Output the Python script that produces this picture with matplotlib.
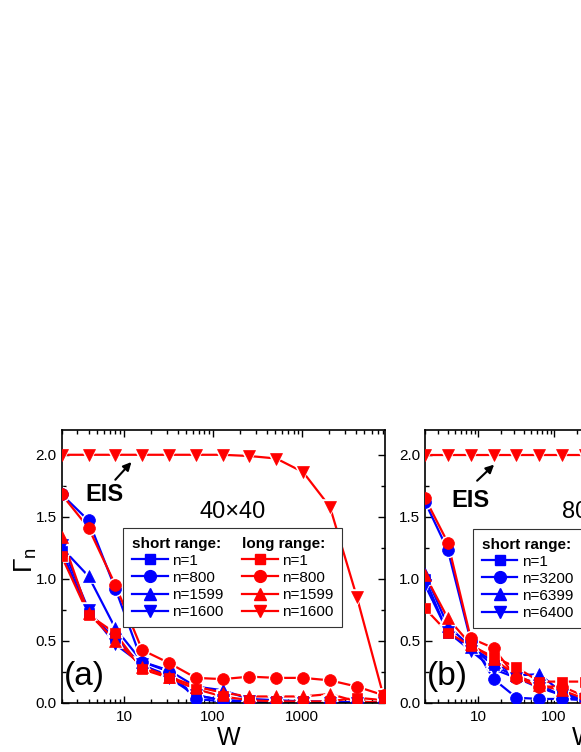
import matplotlib
matplotlib.use('Agg')
import matplotlib.pyplot as plt
from matplotlib.lines import Line2D
from matplotlib.ticker import MultipleLocator, FormatStrFormatter, LogLocator, NullFormatter

plt.rcParams['font.family'] = ['Liberation Sans', 'DejaVu Sans']
plt.rcParams['mathtext.fontset'] = 'custom'
plt.rcParams['mathtext.rm'] = 'Liberation Sans'
plt.rcParams['mathtext.it'] = 'Liberation Sans'

# panel (a): 40x40
W_a = [2, 4, 8, 16, 32, 64, 128, 256, 512, 1024, 2048, 4096, 8192]
a_short_n1 = [1.22, 0.72, 0.52, 0.30, 0.22, 0.06, 0.02, 0.01, 0.01, 0.01, 0.0, 0.0, 0.0]
a_short_n800 = [1.68, 1.47, 0.92, 0.33, 0.25, 0.03, 0.01, 0.0, 0.0, 0.0, 0.0, 0.0, 0.0]
a_short_n1599 = [1.25, 1.02, 0.60, 0.33, 0.26, 0.13, 0.10, 0.03, 0.02, 0.01, 0.01, 0.0, 0.0]
a_short_n1600 = [1.27, 0.75, 0.47, 0.31, 0.20, 0.06, 0.02, 0.01, 0.0, 0.0, 0.0, 0.0, 0.0]
a_long_n1 = [1.18, 0.71, 0.56, 0.27, 0.20, 0.11, 0.05, 0.02, 0.01, 0.01, 0.01, 0.04, 0.02]
a_long_n800 = [1.68, 1.41, 0.95, 0.425, 0.32, 0.20, 0.19, 0.21, 0.20, 0.20, 0.18, 0.13, 0.06]
a_long_n1599 = [1.34, 0.72, 0.50, 0.29, 0.21, 0.13, 0.08, 0.05, 0.05, 0.05, 0.07, 0.01, 0.0]
a_long_n1600 = [2.0, 2.0, 2.0, 2.0, 2.0, 2.0, 2.0, 1.99, 1.97, 1.86, 1.58, 0.855, 0.05]
labels_a = ['n=1', 'n=800', 'n=1599', 'n=1600']

# panel (b): 80x80
W_b = [2, 4, 8, 16, 32, 64, 128, 256, 512]
b_short_n1 = [1.00, 0.56, 0.45, 0.30, 0.21, 0.15, 0.05, 0.02, 0.01]
b_short_n3200 = [1.62, 1.23, 0.50, 0.19, 0.04, 0.03, 0.03, 0.02, 0.01]
b_short_n6399 = [1.04, 0.62, 0.45, 0.33, 0.22, 0.23, 0.08, 0.03, 0.02]
b_short_n6400 = [0.95, 0.57, 0.42, 0.27, 0.20, 0.12, 0.06, 0.03, 0.02]
b_long_n1 = [0.76, 0.565, 0.46, 0.37, 0.285, 0.17, 0.17, 0.17, 0.17]
b_long_n3200 = [1.65, 1.29, 0.52, 0.44, 0.20, 0.13, 0.13, 0.05, 0.03]
b_long_n6399 = [1.03, 0.68, 0.47, 0.35, 0.22, 0.14, 0.10, 0.03, 0.02]
b_long_n6400 = [2.0, 2.0, 2.0, 2.0, 2.0, 2.0, 2.0, 2.0, 2.0]
labels_b = ['n=1', 'n=3200', 'n=6399', 'n=6400']

markers = ['s', 'o', '^', 'v']
sizes = [7.5, 8.5, 8.5, 8.5]

fig = plt.figure(figsize=(5.81, 7.52), dpi=100)
ax1 = fig.add_axes([0.1062, 0.0656, 0.5565, 0.3626])
ax2 = fig.add_axes([0.7315, 0.0656, 0.5565, 0.3626])


def series(ax, W, vals, color, m, s):
    # line, then a white halo so the line stops short of the symbol, then the symbol
    ax.plot(W, vals, color=color, lw=1.6, zorder=2)
    ax.plot(W, vals, ls='none', marker=m, ms=s, mfc='white', mec='white', mew=2.6, zorder=2.5)
    ax.plot(W, vals, ls='none', marker=m, ms=s, mfc=color, mec=color, mew=0.5, zorder=3)
    return Line2D([], [], color=color, lw=1.6, marker=m, ms=s, mec=color)


def draw_panel(ax, W, short, long_, labels, xmax):
    hs = [series(ax, W, v, 'blue', m, s) for v, m, s in zip(short, markers, sizes)]
    hl = [series(ax, W, v, 'red', m, s) for v, m, s in zip(long_, markers, sizes)]
    ax.set_xscale('log')
    ax.set_xlim(2, xmax)
    ax.set_ylim(0, 2.2)
    ax.xaxis.set_major_locator(LogLocator(base=10))
    ax.xaxis.set_minor_locator(LogLocator(base=10, subs=range(2, 10)))
    ax.xaxis.set_major_formatter(FormatStrFormatter('%d'))
    ax.xaxis.set_minor_formatter(NullFormatter())
    ax.yaxis.set_major_locator(MultipleLocator(0.5))
    ax.yaxis.set_minor_locator(MultipleLocator(0.25))
    ax.yaxis.set_major_formatter(FormatStrFormatter('%.1f'))
    ax.tick_params(which='both', direction='in', top=True, right=True, width=1.0, labelsize=11)
    ax.tick_params(which='major', length=5)
    ax.tick_params(which='minor', length=2.8)
    ax.tick_params(axis='x', pad=5.5)
    ax.tick_params(axis='y', pad=3.5)
    for sp in ax.spines.values():
        sp.set_linewidth(1.2)

    # two column legend with bold headers
    blank = Line2D([], [], linestyle='none')
    leg = ax.legend([blank] + hs + [blank] + hl,
                    ['short range:'] + labels + ['long range:'] + labels,
                    ncol=2, fontsize=11, handlelength=2.35, handletextpad=0.3,
                    columnspacing=1.2, labelspacing=0.2, borderpad=0.55,
                    fancybox=False, framealpha=1, edgecolor='#333333',
                    loc='upper left', borderaxespad=0)
    leg.get_frame().set_linewidth(0.8)
    leg.set_zorder(5)
    for t in leg.get_texts():
        if t.get_text().endswith(':'):
            t.set_fontweight('bold')
    for col in leg._legend_handle_box.get_children():
        head = col.get_children()[0]
        head._children = head._children[1:]
    return leg


leg1 = draw_panel(ax1, W_a, [a_short_n1, a_short_n800, a_short_n1599, a_short_n1600],
                  [a_long_n1, a_long_n800, a_long_n1599, a_long_n1600], labels_a, 8500)
leg1.set_bbox_to_anchor((0.1905, 0.6395), transform=ax1.transAxes)

leg2 = draw_panel(ax2, W_b, [b_short_n1, b_short_n3200, b_short_n6399, b_short_n6400],
                  [b_long_n1, b_long_n3200, b_long_n6399, b_long_n6400], labels_b, 36000)
leg2.set_bbox_to_anchor((0.149, 0.636), transform=ax2.transAxes)

# labels and annotations
ax1.set_xlabel('W', fontsize=18)
ax1.xaxis.set_label_coords(0.517, -0.085)
ax2.set_xlabel('W', fontsize=18)
ax2.xaxis.set_label_coords(0.49, -0.085)
ax1.set_ylabel(r'$\Gamma_n$', fontsize=19)
ax1.yaxis.set_label_coords(-0.07, 0.523)

ax1.text(0.131, 0.765, 'EIS', transform=ax1.transAxes, fontsize=17, fontweight='bold',
         ha='center', va='center')
ax1.annotate('', xy=(0.2215, 0.89), xytext=(0.16, 0.81), xycoords='axes fraction',
             arrowprops=dict(arrowstyle='-|>', color='black', lw=1.5, mutation_scale=12))
ax2.text(0.139, 0.741, 'EIS', transform=ax2.transAxes, fontsize=17, fontweight='bold',
         ha='center', va='center')
ax2.annotate('', xy=(0.22, 0.88), xytext=(0.155, 0.807), xycoords='axes fraction',
             arrowprops=dict(arrowstyle='-|>', color='black', lw=1.5, mutation_scale=12))

ax1.text(0.53, 0.70, '40×40', transform=ax1.transAxes, fontsize=17, ha='center', va='center')
ax2.text(0.526, 0.70, '80×80', transform=ax2.transAxes, fontsize=17, ha='center', va='center')
ax1.text(0.006, 0.095, '(a)', transform=ax1.transAxes, fontsize=24, ha='left', va='center')
ax2.text(0.006, 0.095, '(b)', transform=ax2.transAxes, fontsize=24, ha='left', va='center')

fig.savefig('out.png', dpi=100)
